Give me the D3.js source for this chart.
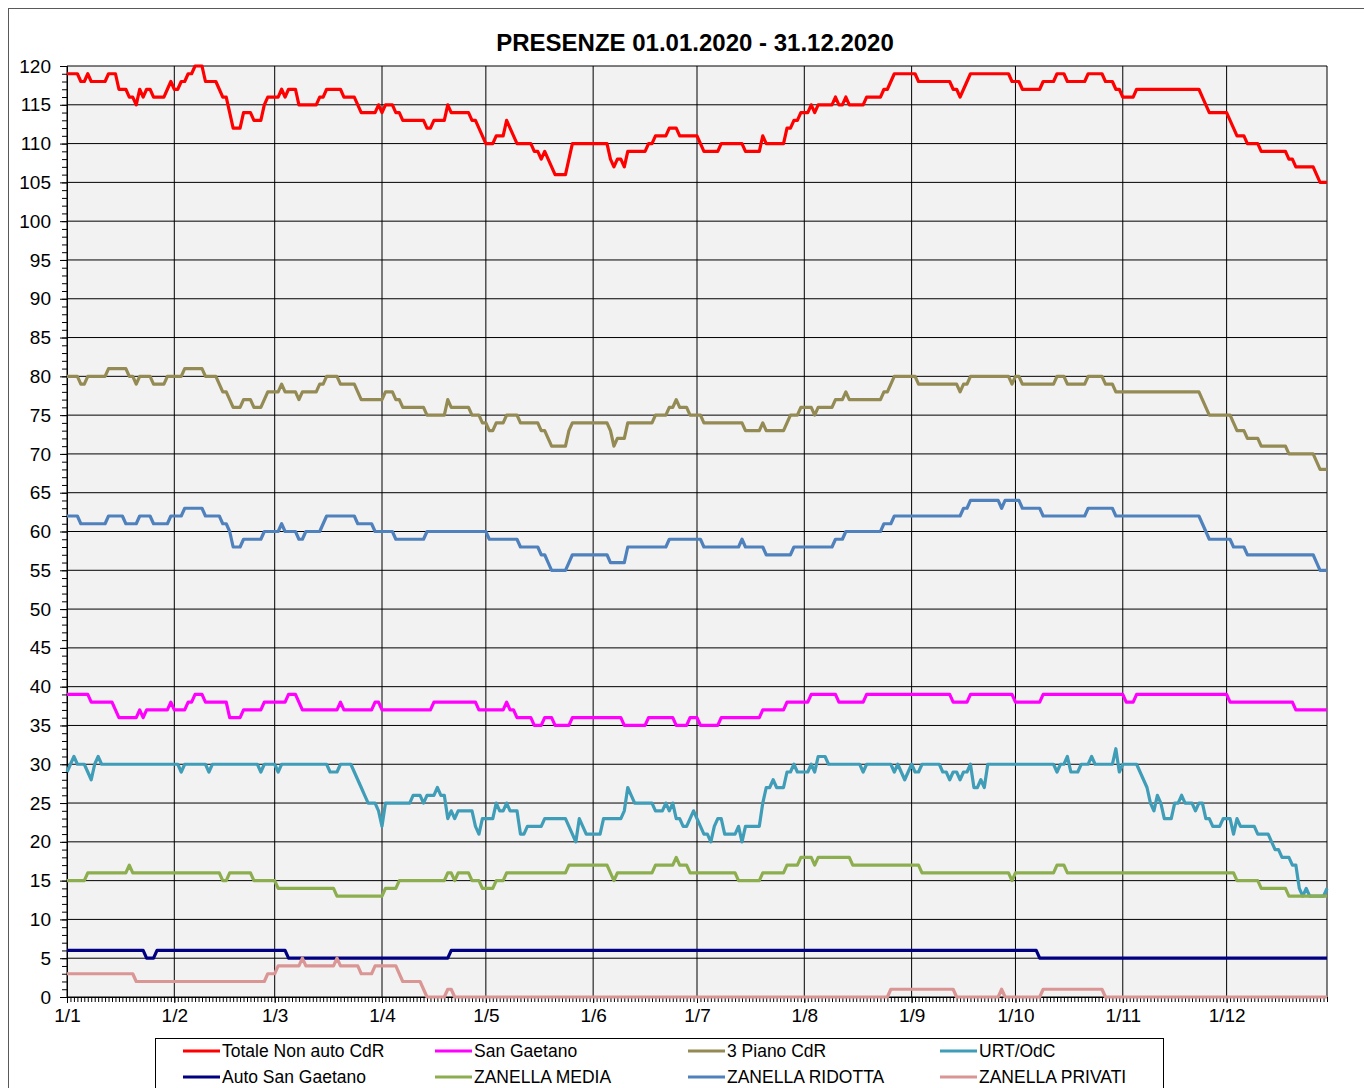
<!DOCTYPE html>
<html lang="it">
<head>
<meta charset="utf-8">
<title>Presenze 2020</title>
<script src="https://cdn.jsdelivr.net/npm/d3@7"></script>
<style>
    body { margin: 0; background: #fff; }
    svg { font-family: "Liberation Sans", Arial, sans-serif; }
    .grid line { stroke: #000; stroke-width: 1; }
    .axis path, .axis line { stroke: #000; stroke-width: 1; }
    .axis text { font-size: 19px; fill: #000; }
    .line { fill: none; stroke-width: 3.2; stroke-linejoin: round; }
    .legend text { font-size: 17.5px; fill: #000; }
</style>
</head>
<body>
<svg id="chart" width="1364" height="1088"></svg>
<script>

// daily dates shown on the axis (1 Jan - 30 Dec 2020)
var dates = d3.utcDay.range(new Date(Date.UTC(2020, 0, 1)), new Date(Date.UTC(2020, 11, 31)));
var monthTicks = d3.utcMonth.range(new Date(Date.UTC(2020, 0, 1)), new Date(Date.UTC(2020, 11, 2)));
var monthLabels = ["1/1", "1/2", "1/3", "1/4", "1/5", "1/6", "1/7", "1/8", "1/9", "1/10", "1/11", "1/12"];
var yTicks = d3.range(0, 121, 5);

var seriesNames = ["Totale Non auto CdR", "San Gaetano", "3 Piano CdR", "URT/OdC",
                   "Auto San Gaetano", "ZANELLA MEDIA", "ZANELLA RIDOTTA", "ZANELLA PRIVATI"];
var seriesColors = ["#ff0000", "#ff00ff", "#948a54", "#3f9db8",
                    "#000080", "#8dae4f", "#4f81bd", "#d99694"];

// values as [first day index, value] - value holds until the next entry
var totaleRuns = [[0,119],[4,118],[6,119],[7,118],[12,119],[15,117],[18,116],[20,115],[21,117],[22,116],[23,117],[25,116],[29,117],[30,118],[31,117],[33,118],[35,119],[37,120],[40,118],[44,117],[45,116],[47,114],[48,112],[51,114],[54,113],[57,115],[58,116],[62,117],[63,116],[64,117],[67,115],[73,116],[75,117],[80,116],[84,115],[85,114],[90,115],[91,114],[92,115],[95,114],[97,113],[104,112],[106,113],[110,115],[111,114],[117,113],[119,112],[120,111],[121,110],[124,111],[127,113],[128,112],[129,111],[130,110],[135,109],[137,108],[138,109],[139,108],[140,107],[141,106],[145,108],[146,110],[157,108],[158,107],[159,108],[161,107],[162,109],[168,110],[170,111],[174,112],[177,111],[183,110],[184,109],[189,110],[196,109],[201,111],[202,110],[208,112],[210,113],[212,114],[215,115],[216,114],[217,115],[222,116],[223,115],[225,116],[226,115],[231,116],[236,117],[238,118],[239,119],[246,118],[256,117],[258,116],[259,117],[260,118],[261,119],[273,118],[276,117],[282,118],[286,119],[289,118],[295,119],[300,118],[303,117],[305,116],[309,117],[328,116],[329,115],[330,114],[336,113],[337,112],[338,111],[341,110],[345,109],[353,108],[355,107],[361,106],[362,105]];

var sanGaetanoRuns = [[0,39],[7,38],[14,37],[15,36],[21,37],[22,36],[23,37],[30,38],[31,37],[35,38],[37,39],[40,38],[47,36],[51,37],[57,38],[64,39],[67,38],[68,37],[79,38],[80,37],[89,38],[91,37],[106,38],[119,37],[127,38],[128,37],[130,36],[135,35],[138,36],[141,35],[146,36],[161,35],[168,36],[176,35],[180,36],[183,35],[189,36],[201,37],[208,38],[215,39],[223,38],[231,39],[256,38],[261,39],[274,38],[282,39],[306,38],[309,39],[336,38],[355,37]];

var pianoRuns = [[0,80],[4,79],[6,80],[12,81],[18,80],[20,79],[21,80],[25,79],[29,80],[34,81],[40,80],[44,79],[45,78],[47,77],[48,76],[51,77],[54,76],[57,77],[58,78],[62,79],[63,78],[67,77],[68,78],[73,79],[75,80],[79,79],[84,78],[85,77],[92,78],[95,77],[97,76],[104,75],[110,77],[111,76],[117,75],[120,74],[122,73],[124,74],[127,75],[131,74],[137,73],[139,72],[140,71],[145,73],[146,74],[157,73],[158,71],[159,72],[162,74],[170,75],[174,76],[176,77],[177,76],[180,75],[184,74],[196,73],[201,74],[202,73],[208,74],[209,75],[212,76],[216,75],[217,76],[222,77],[225,78],[226,77],[236,78],[238,79],[239,80],[246,79],[258,78],[259,79],[261,80],[273,79],[274,80],[276,79],[286,80],[289,79],[295,80],[300,79],[303,78],[328,77],[329,76],[330,75],[337,74],[338,73],[341,72],[345,71],[353,70],[361,69],[362,68]];

var urtRuns = [[0,29],[1,30],[2,31],[3,30],[6,29],[7,28],[8,30],[9,31],[10,30],[33,29],[34,30],[41,29],[42,30],[56,29],[57,30],[61,29],[62,30],[76,29],[79,30],[83,29],[84,28],[85,27],[86,26],[87,25],[90,24],[91,22],[92,25],[100,26],[103,25],[104,26],[107,27],[108,26],[110,23],[111,24],[112,23],[113,24],[118,22],[119,21],[120,23],[124,25],[125,24],[127,25],[128,24],[131,21],[133,22],[138,23],[145,22],[146,21],[147,20],[148,23],[149,22],[150,21],[155,23],[161,24],[162,27],[163,26],[164,25],[170,24],[173,25],[174,24],[175,25],[176,23],[178,22],[180,23],[181,24],[182,23],[183,22],[184,21],[186,20],[187,22],[188,23],[190,21],[194,22],[195,20],[196,22],[201,25],[202,27],[204,28],[205,27],[208,29],[210,30],[211,29],[215,30],[216,29],[217,31],[220,30],[230,29],[231,30],[239,29],[240,30],[241,29],[242,28],[243,29],[244,30],[245,29],[247,30],[253,29],[255,28],[256,29],[258,28],[259,29],[261,30],[262,27],[264,28],[265,27],[266,30],[286,29],[287,30],[289,31],[290,29],[293,30],[296,31],[297,30],[303,32],[304,29],[305,30],[310,29],[311,28],[312,27],[313,25],[314,24],[315,26],[316,25],[317,23],[320,25],[322,26],[323,25],[326,24],[327,25],[329,23],[331,22],[334,23],[337,21],[338,23],[339,22],[344,21],[348,20],[349,19],[351,18],[354,17],[356,14],[357,13],[358,14],[359,13],[364,14]];

var autoRuns = [[0,6],[23,5],[26,6],[64,5],[111,6],[281,5]];

var mediaRuns = [[0,15],[6,16],[18,17],[19,16],[45,15],[47,16],[54,15],[61,14],[78,13],[92,14],[96,15],[110,16],[112,15],[113,16],[117,15],[120,14],[124,15],[127,16],[145,17],[157,16],[158,15],[159,16],[170,17],[176,18],[177,17],[180,16],[194,15],[201,16],[208,17],[212,18],[216,17],[217,18],[227,17],[247,16],[273,15],[274,16],[286,17],[289,16],[338,15],[345,14],[353,13]];

var ridottaRuns = [[0,62],[4,61],[12,62],[17,61],[21,62],[25,61],[30,62],[34,63],[40,62],[45,61],[47,60],[48,58],[51,59],[57,60],[62,61],[63,60],[67,59],[69,60],[74,61],[75,62],[84,61],[89,60],[95,59],[104,60],[122,59],[131,58],[137,57],[139,56],[140,55],[145,56],[146,57],[157,56],[162,58],[174,59],[184,58],[195,59],[196,58],[202,57],[210,58],[222,59],[225,60],[236,61],[239,62],[259,63],[261,64],[270,63],[271,64],[276,63],[282,62],[295,63],[303,62],[328,61],[329,60],[330,59],[337,58],[341,57],[361,56],[362,55]];

var privatiRuns = [[0,3],[20,2],[58,3],[61,4],[68,5],[69,4],[78,5],[79,4],[85,3],[89,4],[96,3],[97,2],[103,1],[104,0],[110,1],[112,0],[238,1],[257,0],[270,1],[271,0],[282,1],[300,0]];

var allRuns = [totaleRuns, sanGaetanoRuns, pianoRuns, urtRuns, autoRuns, mediaRuns, ridottaRuns, privatiRuns];

// turn the runs back into one value per day
function expand(runs) {
    var out = [];
    for (var i = 0; i < runs.length; i++) {
        var end = i + 1 < runs.length ? runs[i + 1][0] : dates.length;
        for (var d = runs[i][0]; d < end; d++) out.push(runs[i][1]);
    }
    return out;
}

var plot = {left: 67, right: 1327, top: 66, bottom: 997};

var svg = d3.select("#chart");

// outer chart border
svg.append("rect")
    .attr("x", 8.5).attr("y", 8.5)
    .attr("width", 1400).attr("height", 1200)
    .attr("fill", "#fff")
    .attr("stroke", "#595959");

var x = d3.scaleUtc()
    .domain([dates[0], dates[dates.length - 1]])
    .range([plot.left, plot.right]);

var y = d3.scaleLinear()
    .domain([0, 120])
    .range([plot.bottom, plot.top]);

svg.append("rect")
    .attr("x", plot.left).attr("y", plot.top)
    .attr("width", plot.right - plot.left).attr("height", plot.bottom - plot.top)
    .attr("fill", "#f2f2f2");

// grid
var grid = svg.append("g").attr("class", "grid");
grid.selectAll(".h").data(yTicks).enter().append("line")
    .attr("x1", plot.left).attr("x2", plot.right)
    .attr("y1", function (d) { return y(d); })
    .attr("y2", function (d) { return y(d); });
grid.selectAll(".v").data(monthTicks.concat([dates[dates.length - 1]])).enter().append("line")
    .attr("y1", plot.top).attr("y2", plot.bottom)
    .attr("x1", function (d) { return x(d); })
    .attr("x2", function (d) { return x(d); });

// axes
svg.append("g")
    .attr("class", "axis")
    .attr("transform", "translate(" + plot.left + ",0)")
    .call(d3.axisLeft(y).tickValues(d3.range(0, 121, 1)).tickSize(5).tickSizeOuter(0).tickFormat(""));

svg.append("g")
    .attr("class", "axis")
    .attr("transform", "translate(" + plot.left + ",0)")
    .call(d3.axisLeft(y).tickValues(yTicks).tickSize(7).tickPadding(9).tickSizeOuter(0));

svg.append("g")
    .attr("class", "axis")
    .attr("transform", "translate(0," + plot.bottom + ")")
    .call(d3.axisBottom(x).tickValues(dates).tickSize(5).tickSizeOuter(0).tickFormat(""));

svg.append("g")
    .attr("class", "axis")
    .attr("transform", "translate(0," + plot.bottom + ")")
    .call(d3.axisBottom(x).tickValues(monthTicks).tickSize(6).tickPadding(6).tickSizeOuter(0)
        .tickFormat(function (d, i) { return monthLabels[i]; }));

// series lines
var line = d3.line()
    .x(function (d, i) { return x(dates[i]); })
    .y(function (d) { return y(d); });

allRuns.forEach(function (runs, k) {
    svg.append("path")
        .datum(expand(runs))
        .attr("class", "line")
        .attr("stroke", seriesColors[k])
        .attr("d", line);
});

// title
svg.append("text")
    .attr("x", 695).attr("y", 51)
    .attr("text-anchor", "middle")
    .style("font-size", "24px")
    .style("font-weight", "bold")
    .text("PRESENZE 01.01.2020 - 31.12.2020");

// legend
var legend = svg.append("g").attr("class", "legend");
legend.append("rect")
    .attr("x", 155.5).attr("y", 1038.5)
    .attr("width", 1008).attr("height", 80)
    .attr("fill", "#fff").attr("stroke", "#000");

var colX = [183, 435, 688, 940], rowY = [1051, 1077];
seriesNames.forEach(function (name, k) {
    var gx = colX[k % 4], gy = rowY[Math.floor(k / 4)];
    legend.append("line")
        .attr("x1", gx).attr("x2", gx + 37)
        .attr("y1", gy).attr("y2", gy)
        .attr("stroke", seriesColors[k]).attr("stroke-width", 3);
    legend.append("text")
        .attr("x", gx + 39).attr("y", gy + 6)
        .text(name);
});

</script>
</body>
</html>
